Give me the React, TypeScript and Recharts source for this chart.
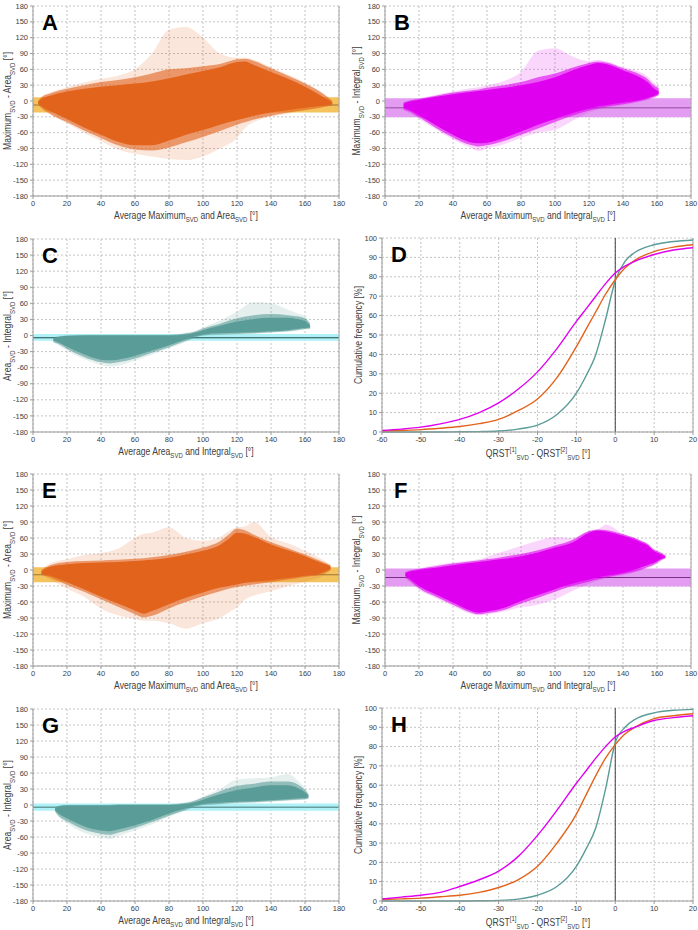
import { ReactNode } from 'react'
import {
  ComposedChart, Area, Line, XAxis, YAxis, CartesianGrid, ReferenceArea, ReferenceLine,
} from 'recharts'

// ---- scatter clouds: dense core, speckled fringe and sparse outliers ----
const xsA = [3, 5, 10, 20, 30, 40, 50, 60, 70, 80, 90, 100, 110, 120, 125, 130, 140, 150, 160, 170, 176]
const coreHiA = [-2, 4, 10, 18, 23, 27, 30, 33, 37, 43, 50, 57, 64, 74, 75, 68, 55, 42, 27, 9, -3]
const coreLoA = [-4, -10, -19, -34, -50, -64, -77, -84, -84, -75, -64, -55, -45, -36, -32, -28, -22, -17, -13, -9, -6]
const fringeHiA = [0, 7, 14, 23, 30, 36, 40, 45, 52, 60, 62, 66, 70, 79, 80, 76, 62, 48, 33, 15, 0]
const fringeLoA = [-6, -13, -24, -40, -56, -70, -84, -92, -94, -88, -78, -68, -57, -45, -40, -35, -28, -22, -17, -12, -8]
const outHiA = [0, 8, 16, 26, 35, 42, 48, 60, 90, 135, 140, 120, 90, 82, 82, 78, 64, 50, 35, 16, 1]
const outLoA = [-7, -14, -26, -42, -60, -76, -92, -100, -105, -110, -112, -105, -90, -70, -50, -40, -30, -24, -18, -13, -9]

const xsB = [11, 15, 20, 30, 40, 50, 55, 60, 70, 80, 90, 100, 110, 120, 125, 130, 140, 150, 155, 158, 161]
const coreHiB = [-5, -1, 2, 8, 13, 17, 19, 21, 25, 30, 36, 45, 58, 68, 72, 70, 58, 45, 34, 24, 18]
const coreLoB = [-13, -18, -27, -46, -64, -78, -80, -79, -70, -58, -45, -34, -23, -14, -10, -8, -3, 2, 6, 9, 14]
const fringeHiB = [-3, 1, 4, 10, 16, 20, 22, 25, 30, 36, 45, 52, 63, 72, 75, 73, 62, 50, 40, 30, 24]
const fringeLoB = [-16, -21, -31, -51, -69, -83, -86, -84, -76, -64, -52, -40, -28, -18, -14, -11, -6, 0, 4, 7, 12]
const outHiB = [-2, 2, 5, 12, 18, 24, 26, 30, 38, 55, 95, 100, 85, 76, 78, 76, 64, 55, 45, 35, 28]
const outLoB = [-18, -24, -34, -54, -73, -88, -95, -90, -82, -70, -60, -55, -38, -22, -17, -13, -8, -2, 2, 5, 10]

const xsC = [12, 15, 20, 30, 40, 45, 50, 60, 70, 80, 90, 95, 100, 110, 120, 130, 140, 150, 155, 160, 163]
const coreHiC = [-6, -3, -1, 0, 0, 0, 0, 0, 0, 0, 2, 5, 10, 18, 26, 31, 33, 33, 31, 27, 18]
const coreLoC = [-10, -13, -21, -35, -45, -46, -45, -38, -28, -18, -7, -2, 2, 4, 5, 6, 8, 10, 12, 14, 15]
const fringeHiC = [-4, -2, 0, 1, 1, 1, 1, 1, 1, 1, 4, 7, 13, 22, 32, 38, 40, 38, 36, 32, 22]
const fringeLoC = [-12, -16, -25, -40, -50, -52, -50, -43, -32, -22, -10, -4, 0, 2, 3, 4, 6, 8, 10, 12, 13]
const outHiC = [-3, -1, 1, 2, 2, 2, 2, 2, 2, 2, 5, 8, 15, 28, 45, 62, 60, 48, 42, 36, 24]
const outLoC = [-13, -18, -28, -44, -55, -58, -56, -47, -36, -24, -12, -5, -1, 1, 2, 3, 5, 7, 9, 11, 12]

const xsE = [5, 10, 20, 30, 40, 50, 60, 65, 70, 80, 90, 100, 110, 115, 120, 125, 130, 140, 150, 160, 170, 175]
const coreHiE = [-3, 6, 11, 13, 14, 15, 17, 18, 19, 23, 29, 36, 47, 58, 70, 68, 62, 48, 37, 26, 13, 7]
const coreLoE = [-7, -11, -23, -36, -50, -63, -76, -82, -77, -64, -52, -42, -33, -30, -27, -24, -22, -19, -15, -11, -5, 2]
const fringeHiE = [0, 9, 15, 17, 18, 19, 21, 22, 24, 28, 34, 42, 54, 66, 78, 74, 66, 52, 41, 29, 16, 9]
const fringeLoE = [-9, -14, -28, -41, -55, -69, -83, -89, -86, -72, -60, -49, -40, -35, -32, -29, -27, -23, -18, -13, -8, 0]
const outHiE = [1, 12, 20, 28, 32, 40, 60, 68, 70, 80, 60, 55, 62, 72, 80, 82, 90, 62, 50, 36, 20, 10]
const outLoE = [-10, -18, -35, -50, -72, -85, -92, -95, -95, -100, -110, -100, -90, -80, -70, -55, -48, -40, -30, -22, -12, -1]

const xsF = [12, 15, 20, 30, 40, 50, 55, 60, 70, 80, 90, 100, 110, 120, 125, 130, 140, 150, 155, 158, 162, 165]
const coreHiF = [-6, -3, 0, 4, 9, 13, 15, 17, 21, 26, 33, 42, 51, 70, 74, 72, 64, 53, 45, 36, 30, 25]
const coreLoF = [-11, -18, -30, -46, -61, -76, -80, -78, -71, -58, -47, -36, -26, -18, -14, -11, -5, 4, 10, 13, 20, 24]
const fringeHiF = [-4, -1, 2, 7, 12, 16, 18, 20, 25, 30, 37, 46, 56, 73, 76, 75, 67, 56, 48, 39, 33, 27]
const fringeLoF = [-14, -21, -34, -50, -65, -79, -83, -81, -75, -63, -52, -41, -30, -22, -18, -14, -8, 0, 6, 10, 18, 22]
const outHiF = [-3, 0, 3, 10, 14, 18, 20, 25, 35, 45, 55, 62, 60, 73, 76, 85, 68, 56, 48, 40, 34, 28]
const outLoF = [-16, -24, -37, -53, -68, -82, -85, -84, -78, -70, -65, -55, -40, -26, -20, -16, -10, -2, 4, 8, 16, 21]

const xsG = [13, 15, 20, 30, 40, 45, 50, 60, 70, 80, 90, 95, 100, 110, 120, 130, 140, 150, 155, 160, 162]
const coreHiG = [-6, -3, -1, -1, -1, -1, 0, 0, 0, 0, 2, 5, 10, 20, 28, 33, 37, 37, 33, 24, 18]
const coreLoG = [-10, -16, -25, -40, -48, -49, -46, -38, -28, -16, -6, -1, 2, 4, 6, 7, 9, 11, 12, 13, 14]
const fringeHiG = [-4, -2, 0, 0, 0, 0, 1, 1, 1, 1, 4, 8, 14, 26, 36, 40, 44, 44, 40, 28, 20]
const fringeLoG = [-12, -20, -30, -46, -54, -56, -52, -43, -32, -20, -9, -3, 0, 2, 4, 5, 7, 9, 10, 11, 12]
const outHiG = [-3, -1, 1, 1, 1, 1, 2, 2, 2, 2, 5, 9, 16, 30, 48, 50, 52, 58, 48, 32, 22]
const outLoG = [-13, -22, -34, -52, -60, -64, -58, -48, -36, -22, -11, -4, -1, 1, 3, 4, 6, 8, 9, 10, 11]

// ---- cumulative frequency curves ----
const cdfX = [-60, -55, -50, -45, -40, -35, -30, -25, -20, -15, -10, -7.5, -5, -2.5, 0, 2.5, 5, 10, 15, 20]
const dMagenta = [0.8, 1.5, 2.5, 4.2, 6.5, 10, 15, 22, 31, 43, 57, 63.5, 70, 76.5, 82, 85.5, 88, 91.5, 93.8, 95]
const dOrange = [0.5, 0.8, 1.2, 1.9, 2.8, 4.3, 6.5, 11, 17, 28, 44, 53, 62, 71, 78.5, 84.5, 88.5, 93, 95.3, 96.5]
const dTeal = [0, 0, 0, 0, 0.1, 0.2, 0.5, 1.5, 3.5, 9, 20, 29, 40, 58, 78, 88, 92.5, 96.5, 98.2, 99]
const hMagenta = [1, 2, 3, 4.5, 7.5, 11, 15.5, 23, 34, 47, 61, 67.5, 74, 80, 85, 88, 90, 93.5, 95, 96]
const hOrange = [0.8, 1.1, 1.5, 2.2, 3, 4.5, 7, 11, 18, 30, 45, 55, 65, 74, 81, 86.5, 90, 94.5, 96, 97]
const hTeal = [0, 0, 0, 0, 0, 0.1, 0.3, 1, 3, 7.5, 18, 27, 38, 58, 82, 90, 94, 97.5, 98.8, 99.3]

const degTicks = [0, 20, 40, 60, 80, 100, 120, 140, 160, 180]
const diffTicks = [-180, -150, -120, -90, -60, -30, 0, 30, 60, 90, 120, 150, 180]
const cdfXTicks = [-60, -50, -40, -30, -20, -10, 0, 10, 20]
const cdfYTicks = [0, 10, 20, 30, 40, 50, 60, 70, 80, 90, 100]

const ORANGE = '#E2631C'
const MAGENTA = '#E000F0'
const TEAL = '#5A9C98'

const tick = { fontSize: 7.5, fill: '#404040' }
const axisLine = { stroke: '#9A9A9A' }
// Calibri-like narrow look from the installed Arial clone
const titleText = { whiteSpace: 'nowrap' as const, fontFamily: '"Liberation Sans", Arial, sans-serif', fontSize: 10.5, color: '#404040' }

type Cloud = { x: number; core: number[]; fringe: number[]; out: number[] }

const cloud = (xs: number[], hi: number[], lo: number[], fhi: number[], flo: number[], ohi: number[], olo: number[]): Cloud[] =>
  xs.map((x, i) => ({ x, core: [lo[i], hi[i]], fringe: [flo[i], fhi[i]], out: [olo[i], ohi[i]] }))

const S = (t: string) => <sub style={{ fontSize: '0.7em' }}>{t}</sub>
const P = (t: string) => <sup style={{ fontSize: '0.7em' }}>{t}</sup>

interface OverlayProps {
  left: number
  plotTop: number
  plotBottom: number
  yAxisWidth: number
  letter: string
  xTitle: ReactNode
  yTitle: ReactNode
  xMid: number
}

function Overlay({ left, plotTop, plotBottom, yAxisWidth, letter, xTitle, yTitle, xMid }: OverlayProps) {
  return (
    <>
      <div style={{ position: 'absolute', left: left + yAxisWidth + 9, top: plotTop + 4, fontFamily: 'Liberation Sans', fontWeight: 'bold', fontSize: 22, lineHeight: '26px' }}>
        {letter}
      </div>
      <div style={{ ...titleText, position: 'absolute', left: xMid, top: plotBottom + 13, transform: 'translateX(-50%) scaleX(0.82)' }}>
        {xTitle}
      </div>
      <div style={{ ...titleText, position: 'absolute', left: left + 9, top: (plotTop + plotBottom) / 2, transform: 'translate(-50%, -50%) rotate(-90deg) scaleX(0.82)' }}>
        {yTitle}
      </div>
    </>
  )
}

interface ScatterProps {
  left: number
  top: number
  plotTop: number
  plotBottom: number
  yAxisWidth: number
  marginRight: number
  letter: string
  xTitle: ReactNode
  yTitle: ReactNode
  data: Cloud[]
  color: string
  band: number[]
  mean: number
  bandColor: string
  lineColor: string
}

function ScatterPanel(p: ScatterProps) {
  const xMid = p.left + p.yAxisWidth + (349 - p.yAxisWidth - p.marginRight) / 2
  return (
    <>
      <div style={{ position: 'absolute', left: p.left, top: p.top }}>
        <ComposedChart
          width={349}
          height={p.plotBottom - p.top + 14}
          data={p.data}
          margin={{ top: p.plotTop - p.top, right: p.marginRight, left: 0, bottom: 0 }}
        >
          <CartesianGrid strokeDasharray="2 2" stroke="#C4C4C4" />
          <XAxis dataKey="x" type="number" domain={[0, 180]} ticks={degTicks} tick={tick} tickSize={3} height={14} axisLine={axisLine} tickLine={axisLine} interval={0} />
          <YAxis type="number" domain={[-180, 180]} ticks={diffTicks} tick={tick} tickSize={3} width={p.yAxisWidth} axisLine={axisLine} tickLine={axisLine} interval={0} />
          <ReferenceArea y1={p.band[0]} y2={p.band[1]} fill={p.bandColor} fillOpacity={1} stroke="none" />
          {/* mean line kept as a thin strip so the cloud covers it, as in the original */}
          <ReferenceArea y1={p.mean - 0.9} y2={p.mean + 0.9} fill={p.lineColor} fillOpacity={1} stroke="none" />
          <ReferenceLine x={180} stroke="#A6A6A6" />
          <Area type="monotone" dataKey="out" stroke="none" fill={p.color} fillOpacity={0.16} isAnimationActive={false} />
          <Area type="monotone" dataKey="fringe" stroke="none" fill={p.color} fillOpacity={0.6} isAnimationActive={false} />
          <Area type="monotone" dataKey="core" stroke="none" fill={p.color} fillOpacity={1} isAnimationActive={false} />
        </ComposedChart>
      </div>
      <Overlay left={p.left} plotTop={p.plotTop} plotBottom={p.plotBottom} yAxisWidth={p.yAxisWidth}
        letter={p.letter} xTitle={p.xTitle} yTitle={p.yTitle} xMid={xMid} />
    </>
  )
}

interface CdfProps {
  top: number
  plotTop: number
  plotBottom: number
  letter: string
  magenta: number[]
  orange: number[]
  teal: number[]
}

function CdfPanel(p: CdfProps) {
  const left = 349
  const yAxisWidth = 33
  const marginRight = 5
  const data = cdfX.map((x, i) => ({ x, m: p.magenta[i], o: p.orange[i], t: p.teal[i] }))
  const xMid = left + yAxisWidth + (349 - yAxisWidth - marginRight) / 2
  return (
    <>
      <div style={{ position: 'absolute', left, top: p.top }}>
        <ComposedChart
          width={349}
          height={p.plotBottom - p.top + 14}
          data={data}
          margin={{ top: p.plotTop - p.top, right: marginRight, left: 0, bottom: 0 }}
        >
          <CartesianGrid strokeDasharray="2 2" stroke="#C4C4C4" />
          <XAxis dataKey="x" type="number" domain={[-60, 20]} ticks={cdfXTicks} tick={tick} tickSize={3} height={14} axisLine={axisLine} tickLine={axisLine} interval={0} />
          <YAxis type="number" domain={[0, 100]} ticks={cdfYTicks} tick={tick} tickSize={3} width={yAxisWidth} axisLine={axisLine} tickLine={axisLine} interval={0} />
          <ReferenceLine x={20} stroke="#A6A6A6" />
          <ReferenceLine x={0} stroke="#404040" />
          <Line type="monotone" dataKey="t" stroke={TEAL} strokeWidth={1.4} dot={false} isAnimationActive={false} />
          <Line type="monotone" dataKey="o" stroke={ORANGE} strokeWidth={1.4} dot={false} isAnimationActive={false} />
          <Line type="monotone" dataKey="m" stroke={MAGENTA} strokeWidth={1.4} dot={false} isAnimationActive={false} />
        </ComposedChart>
      </div>
      <Overlay
        left={left}
        plotTop={p.plotTop}
        plotBottom={p.plotBottom}
        yAxisWidth={yAxisWidth}
        letter={p.letter}
        xMid={xMid}
        xTitle={<>QRST{P('[1]')}{S('SVD')} - QRST{P('[2]')}{S('SVD')} [°]</>}
        yTitle={<>Cumulative frequency [%]</>}
      />
    </>
  )
}

const titleMA = { x: <>Average Maximum{S('SVD')} and Area{S('SVD')} [°]</>, y: <>Maximum{S('SVD')} - Area{S('SVD')} [°]</> }
const titleMI = { x: <>Average Maximum{S('SVD')} and Integral{S('SVD')} [°]</>, y: <>Maximum{S('SVD')} - Integral{S('SVD')} [°]</> }
const titleAI = { x: <>Average Area{S('SVD')} and Integral{S('SVD')} [°]</>, y: <>Area{S('SVD')} - Integral{S('SVD')} [°]</> }

const gold = { bandColor: '#F4C35E', lineColor: '#98743A' }
const violet = { bandColor: '#E49CF2', lineColor: '#7A2E84' }
const cyan = { bandColor: '#AEF2F7', lineColor: '#234848' }

export default function App() {
  return (
    <div style={{ position: 'absolute', left: 0, top: 0, width: 698, height: 930, background: '#fff', fontFamily: 'Liberation Sans, Arial, sans-serif', overflow: 'hidden' }}>
      <ScatterPanel left={0} top={0} plotTop={6} plotBottom={196} yAxisWidth={33} marginRight={10} letter="A"
        xTitle={titleMA.x} yTitle={titleMA.y}
        data={cloud(xsA, coreHiA, coreLoA, fringeHiA, fringeLoA, outHiA, outLoA)}
        color={ORANGE} band={[-22, 7]} mean={-7.5} {...gold} />
      <ScatterPanel left={349} top={0} plotTop={6} plotBottom={196} yAxisWidth={36} marginRight={7} letter="B"
        xTitle={titleMI.x} yTitle={titleMI.y}
        data={cloud(xsB, coreHiB, coreLoB, fringeHiB, fringeLoB, outHiB, outLoB)}
        color={MAGENTA} band={[-31, 5]} mean={-13} {...violet} />
      <ScatterPanel left={0} top={232} plotTop={239} plotBottom={432} yAxisWidth={33} marginRight={10} letter="C"
        xTitle={titleAI.x} yTitle={titleAI.y}
        data={cloud(xsC, coreHiC, coreLoC, fringeHiC, fringeLoC, outHiC, outLoC)}
        color={TEAL} band={[-10, 3]} mean={-4} {...cyan} />
      <CdfPanel top={232} plotTop={238} plotBottom={432} letter="D" magenta={dMagenta} orange={dOrange} teal={dTeal} />
      <ScatterPanel left={0} top={464} plotTop={474} plotBottom={666} yAxisWidth={33} marginRight={10} letter="E"
        xTitle={titleMA.x} yTitle={titleMA.y}
        data={cloud(xsE, coreHiE, coreLoE, fringeHiE, fringeLoE, outHiE, outLoE)}
        color={ORANGE} band={[-23, 5]} mean={-9} {...gold} />
      <ScatterPanel left={349} top={464} plotTop={474} plotBottom={666} yAxisWidth={36} marginRight={7} letter="F"
        xTitle={titleMI.x} yTitle={titleMI.y}
        data={cloud(xsF, coreHiF, coreLoF, fringeHiF, fringeLoF, outHiF, outLoF)}
        color={MAGENTA} band={[-31, 3]} mean={-14} {...violet} />
      <ScatterPanel left={0} top={696} plotTop={709} plotBottom={901} yAxisWidth={33} marginRight={10} letter="G"
        xTitle={titleAI.x} yTitle={titleAI.y}
        data={cloud(xsG, coreHiG, coreLoG, fringeHiG, fringeLoG, outHiG, outLoG)}
        color={TEAL} band={[-11, 3]} mean={-4} {...cyan} />
      <CdfPanel top={696} plotTop={708} plotBottom={901} letter="H" magenta={hMagenta} orange={hOrange} teal={hTeal} />
    </div>
  )
}
